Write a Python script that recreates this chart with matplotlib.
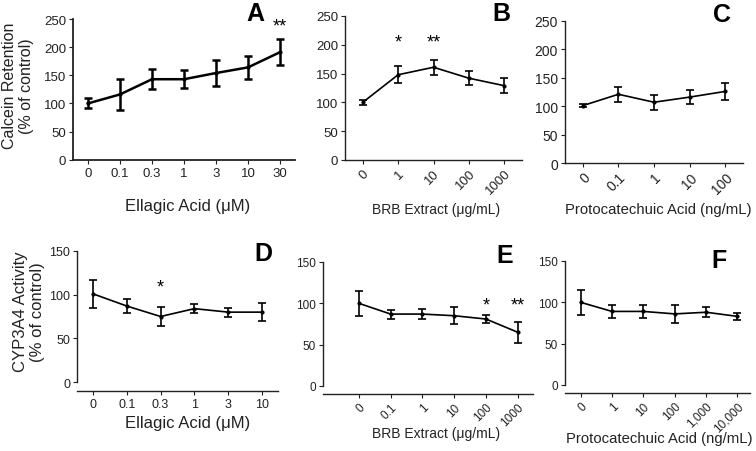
import matplotlib
matplotlib.use('Agg')
import matplotlib.pyplot as plt

plt.rcParams['font.family'] = ['Liberation Sans', 'DejaVu Sans']

W, H = 756, 452

# panel data
A_x = ['0', '0.1', '0.3', '1', '3', '10', '30']
A_mean = [100, 116, 143, 143, 154, 164, 191]
A_err = [9, 27, 18, 16, 23, 21, 23]

B_x = ['0', '1', '10', '100', '1000']
B_mean = [100, 148, 161, 142, 129]
B_err = [4, 15, 13, 12, 13]

C_x = ['0', '0.1', '1', '10', '100']
C_mean = [101, 121, 107, 116, 126]
C_err = [3, 13, 13, 13, 15]

D_x = ['0', '0.1', '0.3', '1', '3', '10']
D_mean = [101, 87, 75, 84, 80, 80]
D_err = [16, 7.5, 11, 5, 5, 10]

E_x = ['0', '0.1', '1', '10', '100', '1000']
E_mean = [100, 87, 87, 85, 81, 65]
E_err = [15, 5.5, 6, 10.5, 5, 13]

F_x = ['0', '1', '10', '100', '1,000', '10,000']
F_mean = [100, 89, 89, 86, 88, 83]
F_err = [15, 8, 8, 10.5, 6, 4]

A_stars = {6: '**'}
B_stars = {1: '*', 2: '**'}
D_stars = {2: '*'}
E_stars = {4: '*', 5: '**'}


def add_ax(fig, left, top, right, bottom):
    return fig.add_axes([left / W, 1 - bottom / H, (right - left) / W, (bottom - top) / H])


def draw_panel(ax, labels, mean, err, xlim, ylim, yticks, lw, rotate, fs, stars, star_y):
    xs = list(range(len(labels)))
    ax.errorbar(xs, mean, yerr=err, color='black', lw=lw, capsize=3, capthick=lw,
                elinewidth=lw, marker='o', ms=2)
    ax.set_xlim(*xlim)
    ax.set_ylim(*ylim)
    ax.set_yticks(yticks)
    ax.set_xticks(xs)
    if rotate:
        ax.set_xticklabels(labels, rotation=45, ha='right', rotation_mode='anchor')
    else:
        ax.set_xticklabels(labels)
    for s in ['top', 'right']:
        ax.spines[s].set_visible(False)
    for s in ['left', 'bottom']:
        ax.spines[s].set_linewidth(1.0 if lw < 1.5 else 1.3)
        ax.spines[s].set_color('#222222')
    ax.spines['left'].set_bounds(max(ylim[0], 0), ylim[1])
    ax.tick_params(direction='out', length=3, width=0.8, labelsize=fs, colors='#222222', pad=2)
    for i, s in stars.items():
        ax.text(i, star_y, s, ha='center', va='center', fontsize=13)


fig = plt.figure(figsize=(W / 100, H / 100), dpi=100)

axA = add_ax(fig, 73, 20, 295, 160.7)
draw_panel(axA, A_x, A_mean, A_err, (-0.47, 6.47), (0, 250), [0, 50, 100, 150, 200, 250],
           1.8, False, 9.5, A_stars, 238)
axB = add_ax(fig, 345, 17, 522, 161)
draw_panel(axB, B_x, B_mean, B_err, (-0.5, 4.5), (0, 250), [0, 50, 100, 150, 200, 250],
           1.2, True, 9.5, B_stars, 205)
axC = add_ax(fig, 565, 22, 743, 164)
draw_panel(axC, C_x, C_mean, C_err, (-0.5, 4.5), (0, 250), [0, 50, 100, 150, 200, 250],
           1.2, True, 10, {}, 0)
axD = add_ax(fig, 77, 252, 278, 392)
draw_panel(axD, D_x, D_mean, D_err, (-0.47, 5.47), (-10.3, 150), [0, 50, 100, 150],
           1.2, False, 9, D_stars, 109)
axE = add_ax(fig, 323, 263, 533, 395)
draw_panel(axE, E_x, E_mean, E_err, (-1.13, 5.48), (-9.7, 150), [0, 50, 100, 150],
           1.2, True, 8.5, E_stars, 98)
axF = add_ax(fig, 565, 262, 750, 394)
draw_panel(axF, F_x, F_mean, F_err, (-0.5, 5.4), (-9.7, 150), [0, 50, 100, 150],
           1.2, True, 8.5, {}, 0)


def ftext(x, y, s, **kw):
    fig.text(x / W, 1 - y / H, s, ha='center', va='center', **kw)


# panel letters
for x, y, s in [(255, 14, 'A'), (501, 14, 'B'), (722, 15, 'C'),
                (263, 254, 'D'), (505, 256, 'E'), (719, 261, 'F')]:
    ftext(x, y, s, fontsize=18, fontweight='bold')

# axis titles
ftext(188, 207, 'Ellagic Acid (\u03bcM)', fontsize=12, color='#222222')
ftext(436, 210, 'BRB Extract (\u03bcg/mL)', fontsize=10, color='#222222')
ftext(658, 210, 'Protocatechuic Acid (ng/mL)', fontsize=10.7, color='#222222')
ftext(188, 424, 'Ellagic Acid (\u03bcM)', fontsize=12, color='#222222')
ftext(436, 434, 'BRB Extract (\u03bcg/mL)', fontsize=10, color='#222222')
ftext(659, 439, 'Protocatechuic Acid (ng/mL)', fontsize=10.7, color='#222222')

ftext(18, 86, 'Calcein Retention\n(% of control)', fontsize=11.5, rotation=90,
      color='#222222', linespacing=1.2)
ftext(29, 312, 'CYP3A4 Activity\n(% of control)', fontsize=12, rotation=90,
      color='#222222', linespacing=1.2)

fig.savefig('out.png', dpi=100)
